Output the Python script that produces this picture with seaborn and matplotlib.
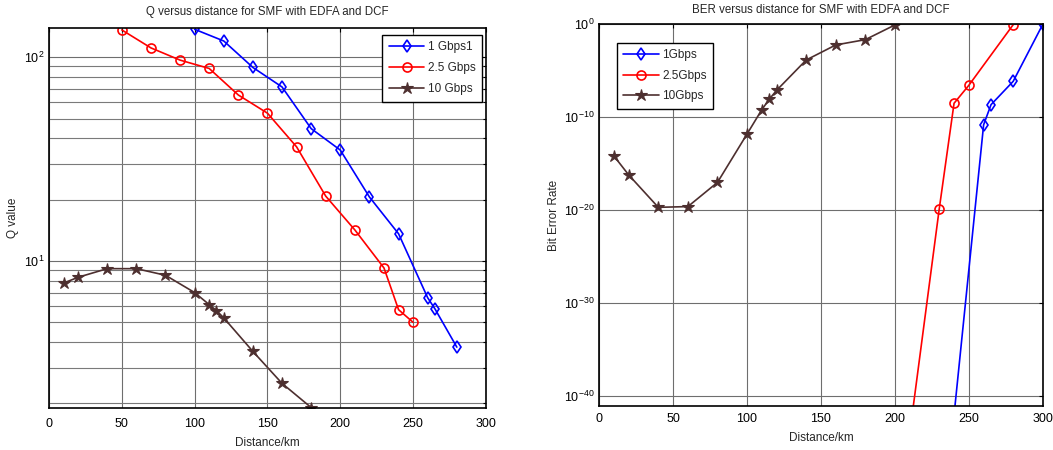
import numpy as np
import pandas as pd
import matplotlib
matplotlib.use("Agg")
import matplotlib.pyplot as plt
import seaborn as sns
from matplotlib.ticker import FixedLocator, NullFormatter, LogFormatterMathtext

# ---------------- data ----------------
# Q value vs distance
q_1g_x = [100, 120, 140, 160, 180, 200, 220, 240, 260, 265, 280]
q_1g_y = [137, 120, 89, 71.4, 44.6, 35, 20.6, 13.6, 6.6, 5.82, 3.78]
q_25g_x = [50, 70, 90, 110, 130, 150, 170, 190, 210, 230, 240, 250]
q_25g_y = [136, 111, 96.7, 88, 65.2, 53.1, 36.3, 20.8, 14.2, 9.24, 5.77, 5.0]
q_10g_x = [10, 20, 40, 60, 80, 100, 110, 115, 120, 140, 160, 180]
q_10g_y = [7.79, 8.32, 9.17, 9.17, 8.51, 7.0, 6.11, 5.71, 5.26, 3.6, 2.51, 1.91]

# BER vs distance (values given as log10(BER))
ber_1g_x = [240, 260, 265, 280, 300]
ber_1g_log = [-42.0, -10.8, -8.64, -6.13, 0.0]
ber_25g_x = [210, 230, 240, 250, 280]
ber_25g_log = [-44.0, -19.82, -8.49, -6.56, -0.04]
ber_10g_x = [10, 20, 40, 60, 80, 100, 110, 115, 120, 140, 160, 180, 200]
ber_10g_log = [-14.16, -16.2, -19.68, -19.6, -17.0, -11.8, -9.18, -8.06, -7.1, -3.84, -2.22, -1.65, -0.07]

q_labels = ["1 Gbps1", "2.5 Gbps", "10 Gbps"]
ber_labels = ["1Gbps", "2.5Gbps", "10Gbps"]
x_ticks = [0, 50, 100, 150, 200, 250, 300]

# ---------------- style ----------------
sns.set_theme(style="white")
plt.rcParams["font.family"] = ["Liberation Sans", "DejaVu Sans"]
plt.rcParams["mathtext.default"] = "regular"
plt.rcParams["axes.unicode_minus"] = False
plt.rcParams["font.size"] = 8

BLUE = "#0000ff"
RED = "#ff0000"
BROWN = "#4d2f2f"

series_style = [
    dict(color=BLUE, marker="d", markersize=6.5, markerfacecolor="none",
         markeredgecolor=BLUE, markeredgewidth=1.2),
    dict(color=RED, marker="o", markersize=6.5, markerfacecolor="none",
         markeredgecolor=RED, markeredgewidth=1.2),
    dict(color=BROWN, marker="*", markersize=9, markerfacecolor=BROWN,
         markeredgecolor=BROWN, markeredgewidth=0.8),
]

fig = plt.figure(figsize=(10.53, 4.5), dpi=100)
ax1 = fig.add_axes([0.0465, 0.0933, 0.415, 0.8445])
ax2 = fig.add_axes([0.569, 0.0978, 0.4213, 0.8482])


def style_axes(ax, xpad, lpad):
    for s in ax.spines.values():
        s.set_color("black")
        s.set_linewidth(1.2)
    ax.tick_params(which="both", direction="in", top=True, right=True,
                   colors="black", labelsize=9, length=3, width=0.8)
    ax.tick_params(which="minor", length=2)
    ax.tick_params(axis="x", pad=xpad)
    ax.set_xlim(0, 300)
    ax.set_xticks(x_ticks)
    ax.set_xticklabels([str(t) for t in x_ticks])
    ax.set_xlabel("Distance/km", fontsize=8.5, labelpad=lpad)


def style_legend(leg):
    fr = leg.get_frame()
    fr.set_edgecolor("black")
    fr.set_linewidth(1.0)
    fr.set_alpha(1)


# ---------- left: Q value ----------
q_sets = [(q_1g_x, q_1g_y), (q_25g_x, q_25g_y), (q_10g_x, q_10g_y)]
for (xs, ys), lab, st in zip(q_sets, q_labels, series_style):
    df = pd.DataFrame({"Distance": xs, "Q": ys})
    sns.lineplot(data=df, x="Distance", y="Q", ax=ax1, label=lab,
                 linewidth=1.2, **st)
ax1.set_yscale("log")
ax1.set_ylim(1.9, 139)
ax1.yaxis.set_major_locator(FixedLocator([10, 100]))
ax1.yaxis.set_major_formatter(LogFormatterMathtext())
ax1.yaxis.set_minor_locator(FixedLocator([2, 3, 4, 5, 6, 7, 8, 9,
                                          20, 30, 40, 50, 60, 70, 80, 90]))
ax1.yaxis.set_minor_formatter(NullFormatter())
ax1.grid(True, which="major", color="#6e6e6e", linewidth=0.8)
ax1.grid(True, which="minor", axis="y", color="#7a7a7a", linewidth=0.8)
ax1.set_axisbelow(True)
style_axes(ax1, xpad=7, lpad=5)
ax1.set_ylabel("Q value", fontsize=8.5, labelpad=3)
ax1.set_title("Q versus distance for SMF with EDFA and DCF", fontsize=8.3, pad=9)
leg1 = ax1.legend(loc="upper right", bbox_to_anchor=(0.991, 0.982),
                  borderaxespad=0, fontsize=8.5, frameon=True, fancybox=False,
                  handlelength=3.0, labelspacing=0.75, borderpad=0.55,
                  handletextpad=0.3)
style_legend(leg1)

# ---------- right: BER ----------
ber_sets = [(ber_1g_x, ber_1g_log), (ber_25g_x, ber_25g_log), (ber_10g_x, ber_10g_log)]
for (xs, ls), lab, st in zip(ber_sets, ber_labels, series_style):
    df = pd.DataFrame({"Distance": xs, "BER": np.power(10.0, ls)})
    sns.lineplot(data=df, x="Distance", y="BER", ax=ax2, label=lab,
                 linewidth=1.2, **st)
ax2.set_yscale("log")
ax2.set_ylim(10 ** -41.04, 1.0)
ax2.yaxis.set_major_locator(FixedLocator([1e-40, 1e-30, 1e-20, 1e-10, 1e0]))
ax2.yaxis.set_major_formatter(LogFormatterMathtext())
ax2.yaxis.set_minor_locator(FixedLocator([]))
ax2.grid(True, which="major", color="#6e6e6e", linewidth=0.8)
ax2.set_axisbelow(True)
style_axes(ax2, xpad=5, lpad=5)
ax2.set_ylabel("Bit Error Rate", fontsize=8.5, labelpad=3)
ax2.set_title("BER versus distance for SMF with EDFA and DCF", fontsize=8.3, pad=8)
leg2 = ax2.legend(loc="upper left", bbox_to_anchor=(0.04, 0.951),
                  borderaxespad=0, fontsize=8.5, frameon=True, fancybox=False,
                  handlelength=3.0, labelspacing=0.7, borderpad=0.55,
                  handletextpad=0.3)
style_legend(leg2)

fig.savefig("out.png", dpi=100)
